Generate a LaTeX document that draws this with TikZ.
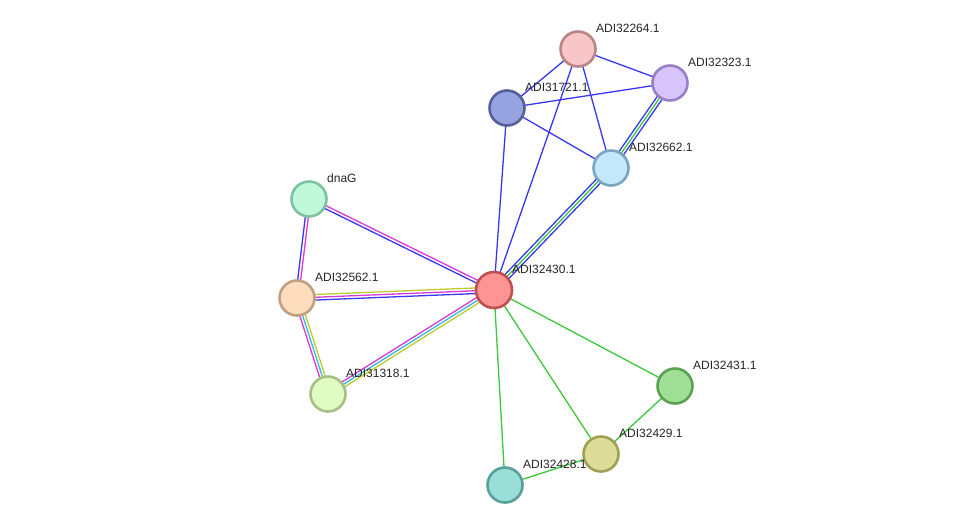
\documentclass[tikz,border=0pt]{standalone}
\usepackage{fontspec}
\setmainfont{Liberation Sans}
\usetikzlibrary{calc}
\pgfdeclarelayer{bg}
\pgfsetlayers{bg,main}
\definecolor{eblue}{HTML}{3838F2}
\definecolor{egreen}{HTML}{3CC83C}
\definecolor{emag}{HTML}{D83AD8}
\definecolor{ecyan}{HTML}{38B8E8}
\definecolor{eyel}{HTML}{BCCC2C}
\tikzset{
  prot/.style={circle, minimum size=35pt, inner sep=0pt, line width=2.6pt},
  lbl/.style={font=\fontsize{12}{14}\selectfont, anchor=base west, inner sep=0pt, text=black!85},
  edgeln/.style={line width=1.3pt},
}
% offset line from node #1 to node #2, offset #3, colour #4
\newcommand\sedge[4]{\draw[edgeln, #4] ($(#1.center)!#3!90:(#2.center)$) -- ($(#2.center)!#3!-90:(#1.center)$);}
\newcommand\plabel[2]{\node[lbl] (l#1) at ([shift={(18,-17)}]#1.center) {#2};}
\begin{document}
\begin{tikzpicture}[x=1pt,y=-1pt]
\useasboundingbox (0,0) rectangle (976,531);
% nodes
\node[prot, fill={rgb,255:red,248;green,198;blue,198}, draw={rgb,255:red,184;green,134;blue,134}] (n264) at (578,49) {};
\node[prot, fill={rgb,255:red,214;green,196;blue,251}, draw={rgb,255:red,152;green,128;blue,200}] (n323) at (670,83) {};
\node[prot, fill={rgb,255:red,151;green,162;blue,224}, draw={rgb,255:red,86;green,96;blue,154}] (n721) at (507,108) {};
\node[prot, fill={rgb,255:red,196;green,232;blue,251}, draw={rgb,255:red,123;green,164;blue,192}] (n662) at (611,168) {};
\node[prot, fill={rgb,255:red,191;green,249;blue,218}, draw={rgb,255:red,127;green,194;blue,159}] (ndnaG) at (309,199) {};
\node[prot, minimum size=36pt, fill={rgb,255:red,255;green,148;blue,148}, draw={rgb,255:red,192;green,80;blue,80}] (n430) at (494,290) {};
\node[prot, fill={rgb,255:red,254;green,221;blue,190}, draw={rgb,255:red,192;green,160;blue,128}] (n562) at (297,298) {};
\node[prot, fill={rgb,255:red,224;green,252;blue,194}, draw={rgb,255:red,168;green,192;blue,136}] (n318) at (328,394) {};
\node[prot, fill={rgb,255:red,159;green,224;blue,150}, draw={rgb,255:red,94;green,160;blue,85}] (n431) at (675,386) {};
\node[prot, fill={rgb,255:red,222;green,220;blue,153}, draw={rgb,255:red,160;green,160;blue,85}] (n429) at (601,454) {};
\node[prot, fill={rgb,255:red,154;green,223;blue,215}, draw={rgb,255:red,88;green,160;blue,152}] (n428) at (505,485) {};
% edges
\begin{pgfonlayer}{bg}
\fill[white] (0,0) rectangle (976,531);
\sedge{n264}{n323}{0pt}{eblue}
\sedge{n264}{n721}{0pt}{eblue}
\sedge{n264}{n662}{0pt}{eblue}
\sedge{n264}{n430}{0pt}{eblue}
\sedge{n721}{n323}{0pt}{eblue}
\sedge{n721}{n662}{0pt}{eblue}
\sedge{n721}{n430}{0pt}{eblue}
\sedge{n323}{n662}{2.8pt}{eblue}
\sedge{n323}{n662}{0pt}{egreen}
\sedge{n323}{n662}{-2.8pt}{eblue}
\sedge{n662}{n430}{2.8pt}{eblue}
\sedge{n662}{n430}{0pt}{egreen}
\sedge{n662}{n430}{-2.8pt}{eblue}
\sedge{ndnaG}{n430}{1.5pt}{emag}
\sedge{ndnaG}{n430}{-1.5pt}{eblue}
\sedge{ndnaG}{n562}{1.5pt}{emag}
\sedge{ndnaG}{n562}{-1.5pt}{eblue}
\sedge{n562}{n430}{2.8pt}{eyel}
\sedge{n562}{n430}{0pt}{emag}
\sedge{n562}{n430}{-2.8pt}{eblue}
\sedge{n562}{n318}{-2.8pt}{emag}
\sedge{n562}{n318}{0pt}{ecyan}
\sedge{n562}{n318}{2.8pt}{eyel}
\sedge{n318}{n430}{2.8pt}{emag}
\sedge{n318}{n430}{0pt}{ecyan}
\sedge{n318}{n430}{-2.8pt}{eyel}
\sedge{n430}{n431}{0pt}{egreen}
\sedge{n430}{n429}{0pt}{egreen}
\sedge{n430}{n428}{0pt}{egreen}
\sedge{n431}{n429}{0pt}{egreen}
\sedge{n429}{n428}{0pt}{egreen}
\end{pgfonlayer}
% labels
\plabel{n264}{ADI32264.1}
\plabel{n323}{ADI32323.1}
\plabel{n721}{ADI31721.1}
\plabel{n662}{ADI32662.1}
\plabel{ndnaG}{dnaG}
\plabel{n430}{ADI32430.1}
\plabel{n562}{ADI32562.1}
\plabel{n318}{ADI31318.1}
\plabel{n431}{ADI32431.1}
\plabel{n429}{ADI32429.1}
\plabel{n428}{ADI32428.1}
\end{tikzpicture}
\end{document}
